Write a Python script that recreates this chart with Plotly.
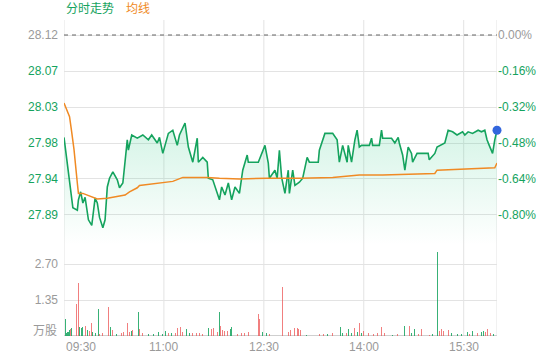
import plotly.graph_objects as go

# ---------------- data ----------------
prev_close = 28.12

price_minutes = [0, 4, 8, 12, 13, 15, 17, 19, 22, 25, 28, 30, 32, 35, 37, 39, 41, 44, 48, 50,
                 53, 57, 58, 61, 66, 71, 76, 79, 84, 86, 89, 94, 98, 102, 104, 109, 112, 116, 120, 121,
                 125, 129, 130, 134, 138, 140, 142, 145, 148, 151, 154, 158, 161, 165, 166, 175, 181, 184, 185, 190,
                 192, 194, 196, 199, 202, 203, 206, 208, 212, 215, 219, 221, 229, 230, 235, 242, 246, 248, 251, 255,
                 256, 259, 262, 264, 266, 268, 275, 277, 278, 284, 286, 287, 295, 298, 301, 302, 305, 307, 310, 313,
                 314, 318, 328, 329, 334, 336, 343, 346, 350, 354, 359, 361, 364, 368, 373, 376, 379, 381, 383, 386,
                 388, 390]
price_values = [27.992, 27.951, 27.904, 27.901, 27.914, 27.924, 27.910, 27.917, 27.889, 27.882, 27.916, 27.910, 27.892, 27.879, 27.889, 27.930, 27.941, 27.949, 27.939, 27.929,
                27.935, 27.989, 27.976, 27.995, 27.991, 27.995, 27.989, 27.995, 27.985, 27.992, 27.972, 27.997, 28.001, 27.982, 27.995, 28.010, 27.980, 27.961, 27.991, 27.961,
                27.967, 27.961, 27.941, 27.939, 27.924, 27.914, 27.930, 27.920, 27.935, 27.914, 27.930, 27.922, 27.951, 27.970, 27.961, 27.961, 27.982, 27.960, 27.941, 27.951,
                27.941, 27.976, 27.942, 27.922, 27.951, 27.922, 27.951, 27.932, 27.936, 27.941, 27.967, 27.961, 27.961, 27.976, 27.997, 27.997, 27.989, 27.961, 27.982, 27.961,
                27.982, 27.961, 27.989, 28.001, 27.980, 27.982, 27.982, 27.991, 27.982, 27.982, 28.001, 27.991, 27.991, 27.985, 27.992, 27.985, 27.970, 27.951, 27.980, 27.972,
                27.961, 27.972, 27.972, 27.964, 27.972, 27.980, 27.985, 28.001, 27.999, 27.995, 27.999, 27.995, 27.999, 27.997, 28.001, 27.999, 28.001, 27.989, 27.982, 27.972,
                27.989, 28.001]

avg_minutes = [0, 2, 5, 7, 9, 12, 13, 17, 23, 30, 39, 43, 55, 59, 66, 68, 86, 98, 107, 129,
               140, 158, 183, 212, 242, 266, 287, 334, 336, 388, 390]
avg_values = [28.035, 28.029, 28.018, 27.998, 27.977, 27.935, 27.922, 27.922, 27.919, 27.915, 27.916, 27.917, 27.920, 27.924, 27.929, 27.932, 27.935, 27.937, 27.942, 27.942,
              27.941, 27.940, 27.941, 27.941, 27.942, 27.945, 27.945, 27.947, 27.951, 27.954, 27.960]

vol_minutes = [1, 2, 3, 4, 5, 6, 7, 11, 13, 14, 16, 17, 19, 21, 23, 25, 26, 28, 31, 32,
               35, 40, 42, 44, 47, 52, 54, 57, 59, 61, 62, 67, 68, 71, 76, 81, 85, 89, 91, 94,
               97, 100, 102, 105, 107, 110, 113, 116, 119, 122, 125, 130, 133, 135, 138, 140, 141, 143, 145, 147,
               150, 151, 156, 160, 163, 166, 175, 176, 179, 182, 185, 197, 202, 204, 208, 210, 211, 213, 218, 230,
               234, 237, 242, 249, 251, 254, 256, 259, 262, 264, 266, 268, 270, 274, 279, 282, 286, 289, 296, 300,
               307, 311, 313, 316, 319, 322, 329, 332, 336, 338, 340, 342, 346, 349, 354, 358, 363, 365, 368, 372,
               376, 378, 380, 381, 384, 387, 390]
vol_values = [0.64, 0.10, 0.16, 0.16, 0.22, 0.25, 0.29, 1.19, 2.00, 0.33, 0.29, 0.33, 0.38, 0.22, 0.20, 0.50, 0.16, 0.10, 1.01, 0.08,
              0.10, 1.07, 0.33, 0.22, 0.08, 0.12, 0.16, 0.50, 0.16, 0.20, 0.22, 0.89, 0.25, 0.10, 0.06, 0.08, 0.16, 0.08, 0.19, 0.12,
              0.10, 0.12, 0.29, 0.33, 0.16, 0.25, 0.10, 0.10, 0.12, 0.10, 0.08, 0.29, 0.25, 0.29, 0.16, 0.91, 0.38, 0.22, 0.20, 0.20,
              0.25, 0.33, 0.08, 0.10, 0.10, 0.16, 0.82, 0.64, 0.16, 0.10, 0.08, 1.85, 0.16, 0.22, 0.29, 0.29, 0.25, 0.22, 0.04, 0.08,
              0.08, 0.08, 0.10, 0.33, 0.12, 0.10, 0.25, 0.10, 0.29, 0.16, 0.48, 0.12, 0.20, 0.10, 0.08, 0.12, 0.33, 0.10, 0.04, 0.08,
              0.38, 0.38, 0.10, 0.25, 0.08, 0.25, 0.04, 0.08, 3.14, 0.20, 0.25, 0.20, 0.22, 0.10, 0.06, 0.08, 0.16, 0.08, 0.20, 0.10,
              0.16, 0.20, 0.16, 0.25, 0.10, 0.08, 0.25]
vol_up = ['G', 'G', 'G', 'G', 'G', 'R', 'G', 'R', 'R', 'G', 'G', 'G', 'R', 'G', 'R', 'R', 'G', 'G', 'G', 'R',
          'R', 'R', 'G', 'R', 'G', 'R', 'R', 'R', 'R', 'G', 'R', 'G', 'R', 'R', 'G', 'G', 'G', 'G', 'G', 'R',
          'G', 'R', 'R', 'R', 'R', 'G', 'G', 'R', 'R', 'R', 'R', 'G', 'R', 'R', 'R', 'G', 'R', 'R', 'R', 'R',
          'G', 'G', 'R', 'R', 'R', 'R', 'R', 'R', 'G', 'G', 'R', 'R', 'R', 'R', 'R', 'R', 'R', 'R', 'G', 'R',
          'R', 'G', 'R', 'G', 'G', 'R', 'G', 'G', 'R', 'G', 'R', 'G', 'R', 'R', 'R', 'R', 'R', 'R', 'G', 'R',
          'G', 'R', 'G', 'G', 'R', 'R', 'R', 'G', 'G', 'R', 'R', 'R', 'R', 'G', 'G', 'G', 'G', 'R', 'G', 'R',
          'G', 'G', 'R', 'R', 'R', 'G', 'R']

time_tick_minutes = [0, 90, 180, 270, 360]
time_tick_labels = ['09:30', '11:00', '12:30', '14:00', '15:30']
session_end_minute = 390

price_tick_values = [28.12, 28.075, 28.03, 27.985, 27.94, 27.895]
price_tick_labels = ['28.12', '28.07', '28.03', '27.98', '27.94', '27.89']
pct_tick_values = [0.0, -0.16, -0.32, -0.48, -0.64, -0.80]
pct_tick_labels = ['0.00%', '-0.16%', '-0.32%', '-0.48%', '-0.64%', '-0.80%']
vol_tick_values = [0, 1.35, 2.70]
vol_tick_labels = ['', '1.35', '2.70']

# ---------------- styling ----------------
GREEN = '#15a35e'
ORANGE = '#f08a24'
GRAY = '#9a9a9a'
GRID = '#e3e3e3'
RED_BAR = 'rgba(236,84,84,0.75)'
GREEN_BAR = 'rgba(21,163,94,0.85)'
FONT = 'Liberation Sans, Arial, Noto Sans CJK SC, sans-serif'

price_range = [27.8575, 28.13875]
pct_range = [(p - prev_close) / prev_close * 100 for p in price_range]
vol_range = [0, 3.225]


def colored(labels, first_color, rest_color):
    out = []
    for i, t in enumerate(labels):
        c = first_color if i == 0 else rest_color
        out.append(f"<span style='color:{c}'>{t}</span>")
    return out


fig = go.Figure()

# baseline for the area fill
fig.add_trace(go.Scatter(x=price_minutes, y=[price_range[0]] * len(price_minutes),
                         mode='lines', line=dict(width=0), hoverinfo='skip',
                         showlegend=False, xaxis='x', yaxis='y'))
fig.add_trace(go.Scatter(x=price_minutes, y=price_values, mode='lines',
                         line=dict(color=GREEN, width=1.6), fill='tonexty',
                         fillgradient=dict(type='vertical',
                                           colorscale=[[0, 'rgba(40,200,130,0.0)'],
                                                       [1, 'rgba(40,200,130,0.2)']],
                                           start=price_range[0], stop=max(price_values)),
                         showlegend=False, xaxis='x', yaxis='y'))
fig.add_trace(go.Scatter(x=avg_minutes, y=avg_values, mode='lines',
                         line=dict(color=ORANGE, width=1.5),
                         showlegend=False, xaxis='x', yaxis='y'))
fig.add_trace(go.Scatter(x=[price_minutes[-1]], y=[price_values[-1]], mode='markers',
                         marker=dict(color='#3366dd', size=9),
                         showlegend=False, xaxis='x', yaxis='y', cliponaxis=False))
fig.add_trace(go.Bar(x=vol_minutes, y=vol_values, width=0.9,
                     marker=dict(color=[RED_BAR if c == 'R' else GREEN_BAR for c in vol_up],
                                 line=dict(width=0)),
                     showlegend=False, xaxis='x', yaxis='y2'))
# invisible trace to activate the percent axis
fig.add_trace(go.Scatter(x=[price_minutes[0]], y=[(price_values[0] - prev_close) / prev_close * 100],
                         mode='markers', marker=dict(opacity=0), hoverinfo='skip',
                         showlegend=False, xaxis='x', yaxis='y3'))

shapes = []
for m in [0] + time_tick_minutes[1:] + [session_end_minute]:
    shapes.append(dict(type='line', xref='x', yref='paper', x0=m, x1=m, y0=0, y1=1,
                       line=dict(color=GRID, width=1), layer='below'))
shapes.append(dict(type='line', xref='paper', yref='y', x0=0, x1=1, y0=prev_close, y1=prev_close,
                   line=dict(color='#666666', width=1.2, dash='4px,4px')))

annotations = [
    dict(text='分时走势', x=0, y=1, xref='paper', yref='paper', xanchor='left', yanchor='bottom',
         yshift=2, showarrow=False, font=dict(color=GREEN, size=12, family=FONT)),
    dict(text='均线', x=0, y=1, xref='paper', yref='paper', xanchor='left', yanchor='bottom',
         xshift=60, yshift=2, showarrow=False, font=dict(color=ORANGE, size=12, family=FONT)),
    dict(text='万股', x=0, y=0, xref='paper', yref='y2', xanchor='right', yanchor='middle',
         xshift=-5, yshift=5, showarrow=False, font=dict(color=GRAY, size=12, family=FONT)),
]
for i, (m, lab) in enumerate(zip(time_tick_minutes, time_tick_labels)):
    annotations.append(dict(text=lab, x=m, y=0, xref='x', yref='paper',
                            xanchor='left' if i == 0 else 'center', yanchor='middle',
                            yshift=-11, showarrow=False,
                            font=dict(color=GRAY, size=12, family=FONT)))

fig.update_layout(
    width=560, height=360,
    margin=dict(l=64, r=63, t=20, b=24),
    paper_bgcolor='white', plot_bgcolor='white',
    font=dict(family=FONT, size=12, color=GRAY),
    bargap=0,
    hovermode=False,
    xaxis=dict(range=[0, session_end_minute], showgrid=False, zeroline=False,
               showticklabels=False, ticks='', anchor='y2',
               showline=False),
    yaxis=dict(domain=[0.288, 1], range=price_range, tickvals=price_tick_values,
               ticktext=colored(price_tick_labels, GRAY, GREEN),
               showgrid=True, gridcolor=GRID, zeroline=False, ticks='',
               ticklabelstandoff=5, showline=False),
    yaxis3=dict(overlaying='y', side='right', anchor='x', range=pct_range,
                tickvals=pct_tick_values, ticktext=colored(pct_tick_labels, GRAY, GREEN),
                showgrid=False, zeroline=False, ticks='', ticklabelstandoff=0, showline=False),
    yaxis2=dict(domain=[0, 0.272], range=vol_range, tickvals=vol_tick_values,
                ticktext=vol_tick_labels, showgrid=True, gridcolor=GRID,
                zeroline=True, zerolinecolor='#cfcfcf', zerolinewidth=1,
                ticks='', ticklabelstandoff=5, showline=False,
                tickfont=dict(color=GRAY)),
    shapes=shapes,
    annotations=annotations,
)

# remove the browser's default 8px page margin so the figure sits at the window origin
fig.write_html('out.html', config={'displayModeBar': False},
               post_script="document.body.style.margin='0px';")
